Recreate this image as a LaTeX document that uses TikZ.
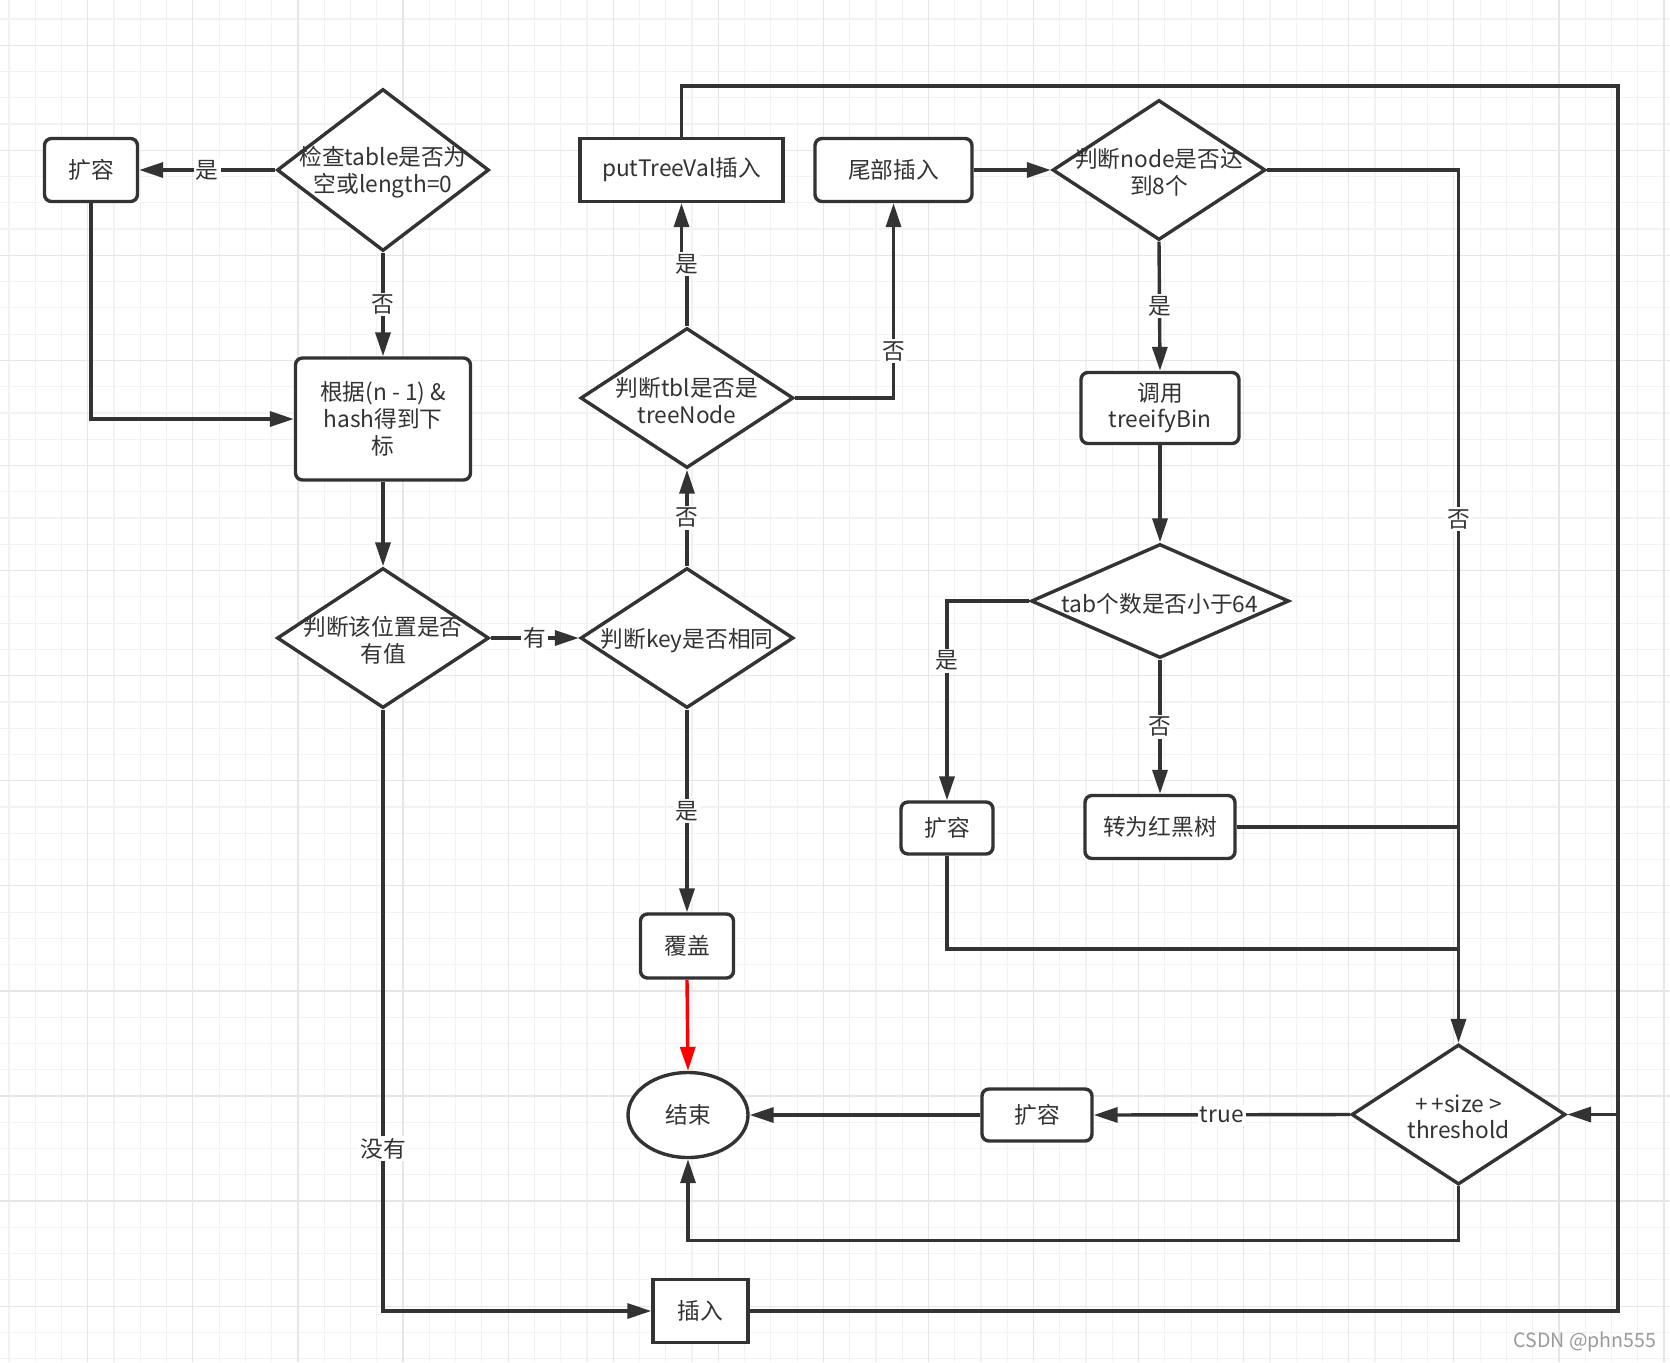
\documentclass[tikz,border=0pt]{standalone}
\usepackage{fontspec}
\setmainfont{Noto Sans CJK SC}
\usetikzlibrary{shapes.geometric,arrows.meta}
\definecolor{ink}{HTML}{333333}
\definecolor{gmin}{HTML}{F2F2F2}
\definecolor{gmaj}{HTML}{E6E6E6}
\definecolor{wm}{HTML}{9A9A9A}
\begin{document}
\begin{tikzpicture}[x=0.5pt,y=-0.5pt,
  every node/.style={text=ink, font=\fontsize{11.35pt}{13.35pt}\selectfont},
  base/.style={draw=ink, line width=1.7pt, fill=white, inner sep=0pt},
  rbox/.style={base, rectangle, rounded corners=3.5pt, align=center},
  sbox/.style={base, rectangle, align=center},
  dia/.style={base, diamond},
  oval/.style={base, ellipse},
  txt/.style={align=center, inner sep=0pt, yshift=-1.2pt},
  line/.style={draw=ink, line width=1.7pt},
  arr/.style={line, -{Triangle[length=12pt,width=7.5pt]}},
  lbl/.style={fill=white, inner sep=1pt},
]
\useasboundingbox (0,0) rectangle (1670,1362);
\fill[white] (0,0) rectangle (1670,1362);
% grid
\foreach \k in {0,...,63} \draw[gmin, line width=0.6pt] ({9+26.27*\k},0) -- ({9+26.27*\k},1362);
\foreach \k in {0,...,51} \draw[gmin, line width=0.6pt] (0,{18.9+26.27*\k}) -- (1670,{18.9+26.27*\k});
\foreach \m in {0,...,15} \draw[gmaj, line width=0.6pt] ({87.81+105.08*\m},0) -- ({87.81+105.08*\m},1362);
\foreach \m in {0,...,12} \draw[gmaj, line width=0.6pt] (0,{45.17+105.08*\m}) -- (1670,{45.17+105.08*\m});

% nodes
\node[rbox, minimum width=46.5pt, minimum height=31.5pt] (kr1) at (91,170) {扩容};
\node[dia, minimum width=106pt, minimum height=81pt] (d1) at (383,170) {};
\node[txt] (d1t) at (d1) {检查table是否为\\空或length=0};
\node[rbox, minimum width=87.5pt, minimum height=61pt] (b1) at (383,419) {根据(n - 1) \&\\hash得到下\\标};
\node[dia, minimum width=106pt, minimum height=70pt] (d2) at (383,638) {};
\node[txt] (d2t) at (d2) {判断该位置是否\\有值};
\node[dia, minimum width=106.5pt, minimum height=70pt] (d3) at (687,638) {};
\node[txt] (d3t) at (d3) {判断key是否相同};
\node[dia, minimum width=106.5pt, minimum height=70pt] (d4) at (687,398) {};
\node[txt] (d4t) at (d4) {判断tbl是否是\\treeNode};
\node[sbox, minimum width=101.5pt, minimum height=31.5pt] (put) at (681.5,170) {putTreeVal插入};
\node[rbox, minimum width=78.5pt, minimum height=31.5pt] (tail) at (893.5,170) {尾部插入};
\node[dia, minimum width=106.5pt, minimum height=70pt] (d5) at (1159,170) {};
\node[txt] (d5t) at (d5) {判断node是否达\\到8个};
\node[rbox, minimum width=79pt, minimum height=35.5pt] (call) at (1160,408) {调用\\treeifyBin};
\node[dia, minimum width=129pt, minimum height=57pt] (d6) at (1160,601) {};
\node[txt] (d6t) at (d6) {tab个数是否小于64};
\node[rbox, minimum width=46pt, minimum height=26pt] (kr2) at (947,828) {扩容};
\node[rbox, minimum width=75pt, minimum height=31.5pt] (rb) at (1160,827) {转为红黑树};
\node[rbox, minimum width=46.5pt, minimum height=32pt] (cov) at (687,946) {覆盖};
\node[oval, minimum width=60pt, minimum height=42.5pt] (end) at (688,1115) {结束};
\node[rbox, minimum width=55pt, minimum height=26pt] (kr3) at (1037,1115) {扩容};
\node[dia, minimum width=107pt, minimum height=70pt] (sz) at (1458.5,1114.5) {};
\node[txt] (szt) at (sz) {+\,+size >\\threshold};
\node[sbox, minimum width=47.5pt, minimum height=31.5pt] (ins) at (700.5,1311) {插入};

% connectors
\draw[arr] (d1.west) -- node[lbl]{是} (kr1.east);
\draw[arr] (d1.south) -- node[lbl]{否} (b1.north);
\draw[arr] (kr1.south) |- (b1.west);
\draw[arr] (b1.south) -- (d2.north);
\draw[arr] (d2.east) -- node[lbl]{有} (d3.west);
\draw[arr] (d2.south) |- node[lbl, pos=0.365]{没有} (ins.west);
\draw[arr] (d3.north) -- node[lbl]{否} (d4.south);
\draw[arr] (d3.south) -- node[lbl]{是} (cov.north);
\draw[arr, draw=red] (cov.south) -- (end.north);
\draw[arr] (d4.north) -- ++(0,-62) node[lbl]{是} -| (put.south);
\draw[arr] (d4.east) -| node[lbl, pos=0.62]{否} (tail.south);
\draw[arr] (tail.east) -- (d5.west);
\draw[arr] (d5.south) -- node[lbl]{是} (call.north);
\draw[arr] (d5.east) -| node[lbl, pos=0.7]{否} (sz.north);
\draw[arr] (call.south) -- (d6.north);
\draw[arr] (d6.west) -| node[lbl, pos=0.65]{是} (kr2.north);
\draw[arr] (d6.south) -- node[lbl]{否} (rb.north);
\draw[line] (rb.east) -- (rb.east -| sz.north);
\coordinate (m1) at (947,949);
\draw[line] (kr2.south) |- (m1 -| sz.north);
\draw[arr] (sz.west) -- node[lbl]{true} (kr3.east);
\draw[arr] (kr3.west) -- (end.east);
\draw[arr] (sz.south) -- ++(0,54) -| (end.south);
\coordinate (rx) at (1618,1114.5);
\coordinate (tr) at (1618,86);
\draw[line] (put.north) |- (tr) -- (rx);
\draw[arr] (ins.east) -| (rx) -- (sz.east);

\node[text=wm, font=\fontsize{9.8pt}{11pt}\selectfont] (wmk) at (1585,1342) {CSDN @phn555};
\end{tikzpicture}
\end{document}
